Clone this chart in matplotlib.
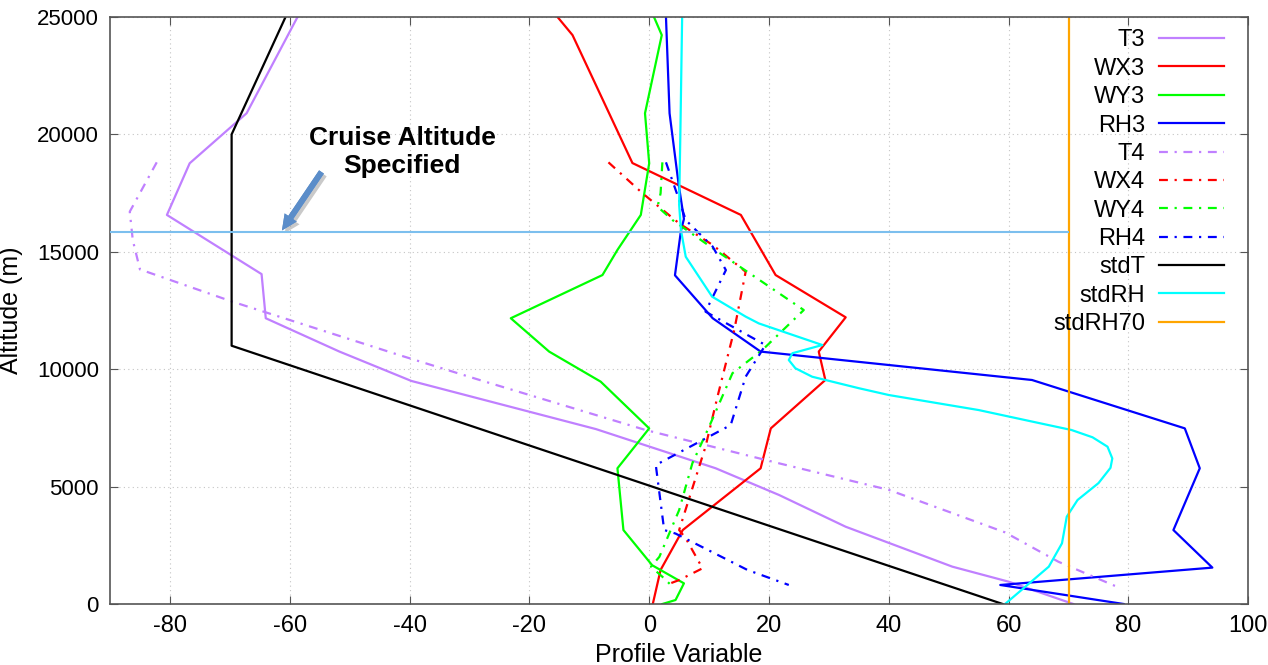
import matplotlib
matplotlib.use("Agg")
import matplotlib.pyplot as plt
import matplotlib.patheffects as pe

plt.rcParams['font.family'] = ['Liberation Sans', 'DejaVu Sans']
plt.rcParams['axes.unicode_minus'] = False

# profiles: (value, altitude in m)
T3_x = [-58.7, -67.2, -76.7, -80.5, -64.7, -64.0, -51.7, -39.7, -8.9, 11.1, 21.7, 32.8, 50.6, 60.0, 70.8]
T3_h = [25000, 20900, 18770, 16570, 14050, 12170, 10750, 9500, 7450, 5780, 4640, 3290, 1590, 950, 0]

WX3_x = [-15.3, -12.8, -2.8, 15.3, 21.1, 32.8, 28.3, 29.4, 20.3, 18.6, 5.6, 1.9, 0.6]
WX3_h = [25000, 24230, 18780, 16570, 14010, 12210, 10750, 9540, 7480, 5780, 3150, 1450, 0]

WY3_x = [0.8, 2.1, -0.7, 0.0, -1.4, -5.3, -7.8, -23.1, -16.7, -8.1, 0.0, -5.3, -4.3, 0.5, 5.8, 4.4, 2.2]
WY3_h = [25000, 24230, 20900, 18770, 16570, 15080, 14010, 12170, 10750, 9470, 7480, 5780, 3150, 1650, 880, 170, 0]

RH3_x = [2.8, 3.4, 4.9, 5.8, 5.3, 4.3, 10.6, 18.6, 63.9, 89.4, 91.9, 87.5, 94.0, 58.6, 79.2]
RH3_h = [25000, 20900, 17900, 16400, 15900, 14000, 12170, 10750, 9540, 7480, 5780, 3150, 1550, 810, 0]

T4_x = [-82.2, -86.7, -86.2, -85.0, -69.5, -41.7, -28.3, -0.6, 21.7, 40.0, 59.4, 68.3, 78.3]
T4_h = [18810, 16710, 15500, 14250, 12870, 10600, 9540, 7410, 5990, 4860, 3050, 1800, 710]

WX4_x = [-6.8, -1.1, 5.0, 10.6, 16.1, 14.2, 11.4, 9.4, 5.0, 6.1, 8.9, 5.0, 2.8]
WX4_h = [18810, 17490, 16210, 15290, 14150, 11670, 8830, 6700, 3150, 2800, 1520, 1020, 810]

WY4_x = [2.2, 1.9, 1.4, 3.9, 10.6, 25.8, 18.9, 13.9, 10.0, 7.2, 5.0, 1.7, 0.3, 2.2, 3.9]
WY4_h = [18810, 17490, 16920, 16350, 15150, 12520, 10820, 9830, 7550, 5990, 4000, 2010, 1590, 1160, 740]

RH4_x = [2.8, 5.0, 6.1, 10.6, 12.8, 9.4, 19.4, 16.1, 13.6, 1.1, 2.5, 4.4, 16.4, 23.3]
RH4_h = [18810, 17210, 16350, 15220, 14220, 12450, 11030, 9680, 7620, 5920, 3150, 3000, 1450, 810]

# standard atmosphere temperature (deg F)
stdT_x = [59.0, -69.7, -69.7, -60.7]
stdT_h = [0, 11000, 20000, 25000]

stdRH_x = [59.4, 62.8, 66.7, 68.9, 69.7, 71.5, 75.0, 77.0, 77.3, 76.5, 74.0, 70.5, 65.0, 55.0, 40.0, 35.0,
           27.2, 24.4, 23.3, 23.9, 28.9, 18.3, 16.1, 10.5, 6.1, 5.3, 5.0, 5.2, 5.5]
stdRH_h = [0, 740, 1590, 2585, 3720, 4430, 5150, 5800, 6200, 6700, 7100, 7410, 7710, 8260, 8900, 9190,
           9680, 10040, 10390, 10680, 11030, 11950, 12240, 13090, 14790, 15930, 17000, 20000, 25000]

RH_LIMIT = 70
CRUISE_ALT = 15850
XMIN, XMAX = -90, 100
YMIN, YMAX = 0, 25000

purple = '#c080ff'
dashdot = (0, (4, 3, 1, 3))
lw = 1.6

fig = plt.figure(figsize=(12.68, 6.65), dpi=100)
ax = fig.add_axes([110 / 1268, 1 - 604 / 665, (1248.3 - 110) / 1268, (604 - 17) / 665])

ax.plot(T3_x, T3_h, color=purple, lw=lw, label='T3')
ax.plot(WX3_x, WX3_h, color='#ff0000', lw=lw, label='WX3')
ax.plot(WY3_x, WY3_h, color='#00ff00', lw=lw, label='WY3')
ax.plot(RH3_x, RH3_h, color='#0000ff', lw=lw, label='RH3')
ax.plot(T4_x, T4_h, color=purple, lw=lw, ls=dashdot, label='T4')
ax.plot(WX4_x, WX4_h, color='#ff0000', lw=lw, ls=dashdot, label='WX4')
ax.plot(WY4_x, WY4_h, color='#00ff00', lw=lw, ls=dashdot, label='WY4')
ax.plot(RH4_x, RH4_h, color='#0000ff', lw=lw, ls=dashdot, label='RH4')
ax.plot(stdT_x, stdT_h, color='black', lw=lw, label='stdT')
ax.plot(stdRH_x, stdRH_h, color='#00ffff', lw=lw, label='stdRH')
ax.plot([RH_LIMIT, RH_LIMIT], [YMIN, YMAX], color='#ffa500', lw=lw, label='stdRH70')

# cruise altitude marker
ax.hlines(CRUISE_ALT, XMIN, RH_LIMIT, color='#7cbfee', lw=1.5, zorder=5)
arr = ax.annotate('', xy=(-61.3, CRUISE_ALT + 60), xytext=(-54.7, 18400),
                  arrowprops=dict(arrowstyle='simple,head_length=0.75,head_width=0.7,tail_width=0.28',
                                  fc='#5b8dc9', ec='none', shrinkA=0, shrinkB=0, mutation_scale=15))
arr.arrow_patch.set_path_effects([pe.withSimplePatchShadow(offset=(2, -2), shadow_rgbFace='#888888', alpha=0.45),
                                  pe.Normal()])
ax.text(-41.2, 19250, 'Cruise Altitude\nSpecified', ha='center', va='center',
        fontsize=19, fontweight='bold', linespacing=1.2)

ax.set_xlim(XMIN, XMAX)
ax.set_ylim(YMIN, YMAX)
ax.set_xticks(range(-80, 101, 20))
ax.set_yticks(range(0, 25001, 5000))
ax.grid(True, ls=(0, (1, 3)), color='#c4c4c4', lw=0.8)
ax.tick_params(direction='in', length=6, top=True, right=True, labelsize=17, color='#555555', pad=8)
ax.tick_params(axis='y', labelsize=16)
for s in ax.spines.values():
    s.set_color('#555555')
    s.set_linewidth(1.2)

ax.set_xlabel('Profile Variable', fontsize=18, labelpad=4)
ax.set_ylabel('Altitude (m)', fontsize=18, labelpad=10)

ax.legend(loc='upper right', bbox_to_anchor=(0.987, 0.995), frameon=False, markerfirst=False,
          fontsize=17, handlelength=2.75, handletextpad=0.6, labelspacing=0.27, borderaxespad=0)

fig.savefig('out.png', dpi=100)
